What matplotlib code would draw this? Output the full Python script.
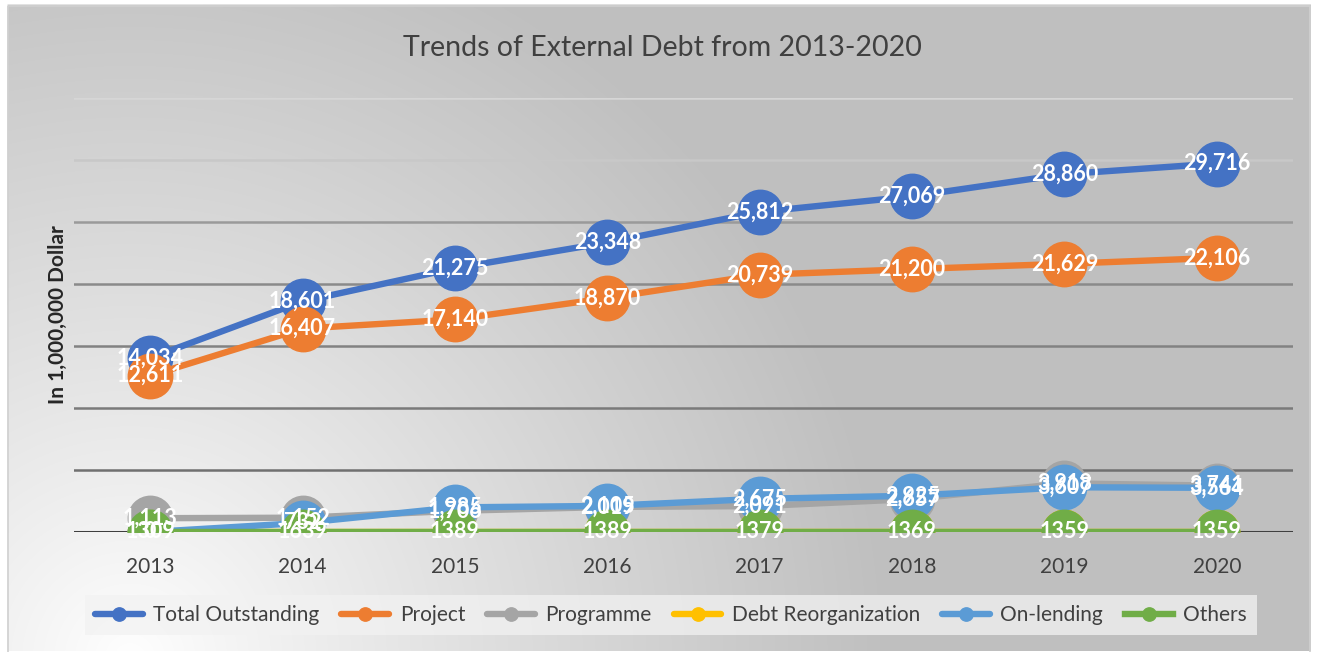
import numpy as np
import matplotlib
matplotlib.use("Agg")
import matplotlib.pyplot as plt

plt.rcParams['font.family'] = ['Lato', 'DejaVu Sans']

years = ["2013", "2014", "2015", "2016", "2017", "2018", "2019", "2020"]

# amounts in million dollars
total_outstanding = [14034, 18601, 21275, 23348, 25812, 27069, 28860, 29716]
project = [12611, 16407, 17140, 18870, 20739, 21200, 21629, 22106]
programme = [1113, 1152, 1706, 2019, 2091, 2657, 3918, 3741]
debt_reorganization = [0, 0, 0, 0, 0, 0, 0, 0]
on_lending = [0, 732, 1985, 2105, 2675, 2925, 3607, 3564]
# "Others" is reported in thousand dollars
others_thousand = [1309, 1639, 1389, 1389, 1379, 1369, 1359, 1359]

series = [
    ("Total Outstanding", total_outstanding, "#4472C4", True),
    ("Project", project, "#ED7D31", True),
    ("Programme", programme, "#A5A5A5", True),
    ("Debt Reorganization", debt_reorganization, "#FFC000", False),
    ("On-lending", on_lending, "#5B9BD5", True),
]

W, H = 1320, 652
fig = plt.figure(figsize=(W / 100, H / 100), dpi=100)

# soft radial shading behind the chart, lightest at the lower left
yy, xx = np.mgrid[0:H, 0:W]
dist = np.hypot(xx - 130, yy - 660)
t = np.clip(dist / 760, 0, 1) ** 0.9
shade = 1.0 - t * 0.25
img = np.dstack([shade, shade, shade])
outside = (xx < 8) | (xx > 1310) | (yy < 6)
img[outside] = 1.0
bg = fig.add_axes([0, 0, 1, 1])
bg.imshow(img, aspect="auto", interpolation="bilinear")
bg.add_patch(plt.Rectangle((8, 6), 1302, 660, fill=False, edgecolor="#d0d0d0", lw=1.2))
bg.set_xlim(0, W)
bg.set_ylim(H, 0)
bg.axis("off")

ax = fig.add_axes([74 / W, 1 - 532 / H, (1293 - 74) / W, (532 - 98) / H])
ax.patch.set_alpha(0)
x = np.arange(len(years))
ax.set_xlim(-0.5, len(years) - 0.5)
ax.set_ylim(0, 35000)

grid_colors = ["#3f3f3f", "#707070", "#7a7a7a", "#828282", "#8a8a8a", "#9a9a9a", "#c8c8c8", "#d6d6d6"]
for k, gc in enumerate(grid_colors):
    ax.axhline(k * 5000, color=gc, lw=2.2 if k == 0 else 1.8, zorder=0.5)

for spine in ax.spines.values():
    spine.set_visible(False)
ax.set_yticks([])
ax.set_xticks(x)
ax.set_xticklabels(years, fontsize=15, color="#404040")
ax.tick_params(axis="x", length=0, pad=18)

marker_size = 32
line_width = 4.6
handles = []
for name, vals, color, labelled in series:
    h, = ax.plot(x, vals, color=color, lw=line_width, marker="o", ms=marker_size,
                 mfc=color, mec=color, solid_capstyle="round", label=name, zorder=2)
    handles.append(h)
    if labelled:
        for xi, v in zip(x, vals):
            ax.text(xi, v, f"{v:,}", ha="center", va="center", color="white",
                    fontsize=15.5, fontweight="bold", zorder=10)

others_million = np.array(others_thousand) / 1000
h, = ax.plot(x, others_million, color="#70AD47", lw=line_width, marker="o", ms=marker_size,
             mfc="#70AD47", mec="#70AD47", label="Others", zorder=2)
handles.append(h)
for xi, v, raw in zip(x, others_million, others_thousand):
    ax.text(xi, v, f"{raw}", ha="center", va="center", color="white",
            fontsize=15.5, fontweight="bold", zorder=10)

ax.set_ylabel("In 1,000,000 Dollar", fontsize=15, fontweight="bold", color="#262626", labelpad=4)

fig.text(662 / W, 1 - 48 / H, "Trends of External Debt from 2013-2020", ha="center", va="center",
         fontsize=20.5, color="#404040")

leg = fig.legend(handles=handles, loc="center", bbox_to_anchor=(671 / W, 1 - 615 / H), ncol=6,
                 fontsize=15, frameon=True, fancybox=False, markerscale=0.3,
                 handlelength=2.3, handletextpad=0.5, columnspacing=1.05, borderpad=0.5)
leg.get_frame().set_facecolor("#f2f2f2")
leg.get_frame().set_alpha(0.75)
leg.get_frame().set_edgecolor("none")
for txt in leg.get_texts():
    txt.set_color("#404040")

fig.savefig("out.png", dpi=100)
